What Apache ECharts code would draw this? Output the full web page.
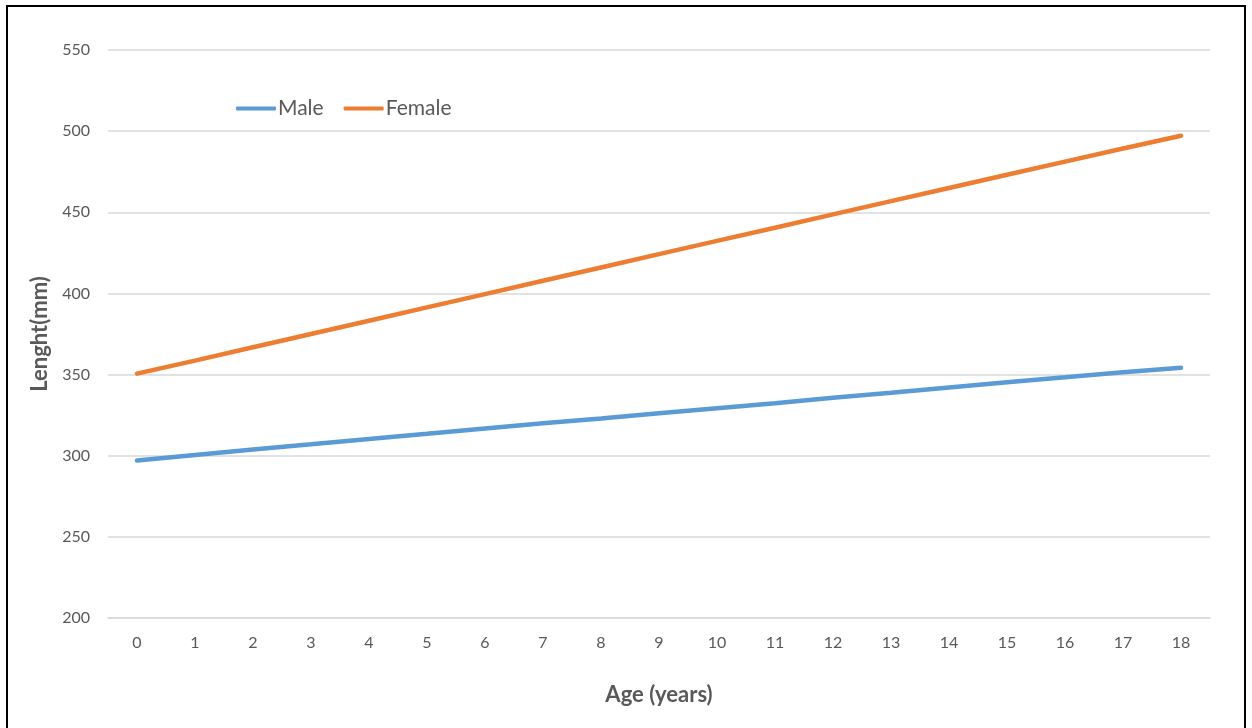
<!DOCTYPE html>
<html>
<head>
<meta charset="utf-8">
<script src="https://cdn.jsdelivr.net/npm/echarts@6/dist/echarts.min.js"></script>
<style>
  html, body { margin: 0; padding: 0; background: #fff; }
  #frame { position: absolute; left: 6px; top: 5px; width: 1240px; height: 730px; border: 2px solid #000; box-sizing: border-box; }
  #chart { position: absolute; left: 0; top: 0; width: 1252px; height: 728px; }
</style>
</head>
<body>
<div id="chart"></div>
<div id="frame"></div>
<script>
const ages = ['0','1','2','3','4','5','6','7','8','9','10','11','12','13','14','15','16','17','18'];
const male = [297, 300.5, 303.8, 307, 310.3, 313.5, 316.8, 320, 323, 326.2, 329.3, 332.3, 335.7, 338.8, 342, 345.2, 348.3, 351.5, 354.2];
const female = [350.6, 358.6, 366.8, 375, 383.2, 391.4, 399.6, 407.8, 416, 424.2, 432.4, 440.5, 448.7, 456.9, 465, 473.1, 481.2, 489.3, 497.2];
const seriesNames = ['Male', 'Female'];
const yTicks = { min: 200, max: 550, interval: 50 };

const font = 'Lato, "Liberation Sans", sans-serif';
const chart = echarts.init(document.getElementById('chart'));
chart.setOption({
  animation: false,
  backgroundColor: '#fff',
  grid: { left: 108, right: 42, top: 50, bottom: 110, containLabel: false },
  legend: {
    left: 231, top: 93,
    itemWidth: 40, itemHeight: 4, itemGap: 20,
    icon: 'roundRect',
    textStyle: { fontFamily: font, fontSize: 21, color: '#595959', padding: [0, 0, 0, -3] },
    data: seriesNames
  },
  xAxis: {
    type: 'category',
    data: ages,
    boundaryGap: true,
    name: 'Age (years)',
    nameLocation: 'middle',
    nameGap: 66,
    nameTextStyle: { fontFamily: font, fontSize: 22, fontWeight: 'bold', color: '#595959' },
    axisLine: { show: true, lineStyle: { color: '#d9d9d9', width: 1.5 } },
    axisTick: { show: false },
    axisLabel: { fontFamily: font, fontSize: 16, color: '#595959', margin: 17 }
  },
  yAxis: {
    type: 'value',
    min: yTicks.min, max: yTicks.max, interval: yTicks.interval,
    name: 'Lenght(mm)',
    nameLocation: 'middle',
    nameGap: 55,
    nameTextStyle: { fontFamily: font, fontSize: 22, fontWeight: 'bold', color: '#595959' },
    axisLine: { show: false },
    axisTick: { show: false },
    axisLabel: { fontFamily: font, fontSize: 16, color: '#595959', margin: 18 },
    splitLine: { lineStyle: { color: '#d9d9d9', width: 1.5 } }
  },
  series: [
    { name: seriesNames[0], type: 'line', data: male, showSymbol: false, symbol: 'none',
      color: '#5B9BD5', lineStyle: { width: 4.5, color: '#5B9BD5', cap: 'round' } },
    { name: seriesNames[1], type: 'line', data: female, showSymbol: false, symbol: 'none',
      color: '#ED7D31', lineStyle: { width: 4.5, color: '#ED7D31', cap: 'round' } }
  ]
});
</script>
</body>
</html>
